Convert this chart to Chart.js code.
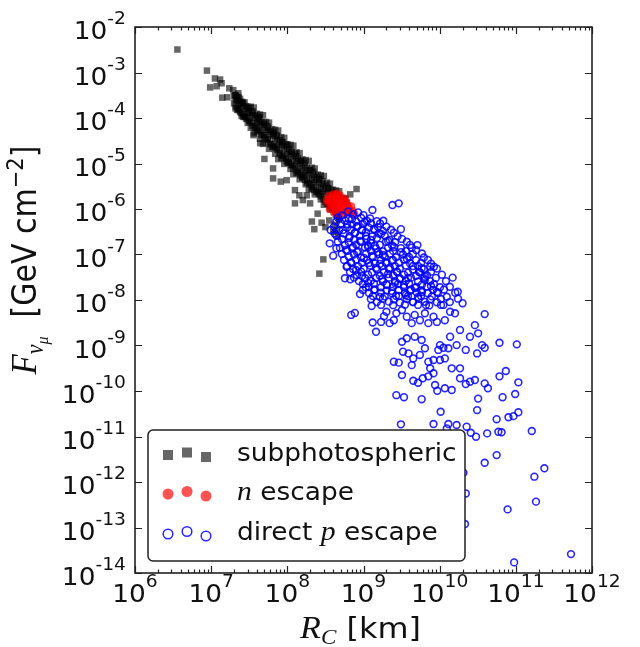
<!DOCTYPE html>
<html>
<head>
<meta charset="utf-8">
<script src="https://cdn.jsdelivr.net/npm/chart.js@4.4.0/dist/chart.umd.min.js"></script>
<style>
  html, body { margin: 0; padding: 0; background: #fff; }
  canvas { display: block; }
</style>
</head>
<body>
<canvas id="fluence" width="640" height="647"></canvas>
<script>
// [R_C in km, F in GeV cm^-2]
const subphotospheric = [
  [3.6e6, 3.2e-3], [8.8e6, 1.1e-3], [1.12e7, 7.4e-4], [9.7e6, 4.7e-4], [1.18e7, 5.0e-4],
  [1.37e7, 5.8e-4], [1.73e7, 4.5e-4], [1.4e7, 2.8e-4], [2.06e7, 3.2e-4], [2.16e7, 2.5e-4],
  [1.31e7, 7.0e-4], [1.63e7, 2.85e-4], [1.95e7, 4.1e-4], [2.27e7, 3.5e-4],
  [5.0e7, 1.26e-5], [3.6e7, 4.2e-5], [6.5e7, 4.7e-6], [8.2e7, 4.0e-6], [9.8e7, 4.3e-6],
  [1.26e8, 2.6e-6], [1.44e8, 2.0e-6], [1.26e8, 1.33e-6], [6.7e8, 2.1e-6], [8.1e8, 2.75e-6],
  [2.1e8, 5.3e-7], [2.26e8, 3.6e-7], [2.97e8, 7.8e-8], [2.63e8, 3.8e-8], [4.4e8, 3.45e-7],
  [6.5e7, 7.8e-6], [1.6e8, 1.57e-6], [1.8e8, 2.0e-6], [1.99e8, 1.33e-6], [4.4e7, 2.8e-5],
  // main band
  [2.0e7, 3.0e-4], [2.0e7, 2.1e-4], [2.1e7, 2.5e-4], [2.1e7, 1.8e-4],
  [2.3e7, 2.4e-4], [2.3e7, 1.6e-4], [2.3e7, 2.0e-4], [2.45e7, 2.1e-4], [2.45e7, 1.3e-4],
  [2.6e7, 1.8e-4], [2.6e7, 1.2e-4], [2.6e7, 2.2e-4], [2.8e7, 1.6e-4], [2.8e7, 1.1e-4],
  [3.0e7, 1.5e-4], [3.0e7, 1.0e-4], [3.0e7, 1.26e-4], [3.2e7, 1.3e-4], [3.2e7, 8.3e-5],
  [3.5e7, 1.15e-4], [3.5e7, 7.9e-5], [3.5e7, 1.4e-4], [3.7e7, 1.0e-4], [3.7e7, 6.6e-5],
  [4.0e7, 9.1e-5], [4.0e7, 6.0e-5], [4.0e7, 7.6e-5], [4.3e7, 8.3e-5], [4.3e7, 5.2e-5],
  [4.3e7, 1.0e-4], [4.6e7, 7.2e-5], [4.6e7, 4.6e-5], [4.9e7, 6.3e-5], [4.9e7, 4.2e-5],
  [4.9e7, 7.9e-5], [5.2e7, 5.5e-5], [5.2e7, 3.6e-5], [5.6e7, 5.0e-5], [5.6e7, 3.3e-5],
  [5.6e7, 6.0e-5], [6.0e7, 4.4e-5], [6.0e7, 2.75e-5], [6.5e7, 4.0e-5], [6.5e7, 2.5e-5],
  [6.5e7, 4.8e-5], [6.9e7, 3.5e-5], [6.9e7, 2.2e-5], [7.4e7, 3.0e-5], [7.4e7, 2.0e-5],
  [7.4e7, 4.0e-5], [7.9e7, 2.6e-5], [7.9e7, 1.74e-5], [8.5e7, 2.4e-5], [8.5e7, 1.5e-5],
  [8.5e7, 3.0e-5], [9.1e7, 2.1e-5], [9.1e7, 1.3e-5], [9.8e7, 1.9e-5], [9.8e7, 1.15e-5],
  [9.8e7, 2.5e-5], [1.05e8, 1.6e-5], [1.05e8, 1.05e-5], [1.12e8, 1.45e-5], [1.12e8, 9.1e-6],
  [1.12e8, 1.8e-5], [1.2e8, 1.26e-5], [1.2e8, 7.9e-6], [1.3e8, 1.15e-5], [1.3e8, 7.2e-6],
  [1.3e8, 1.45e-5], [1.38e8, 1.0e-5], [1.38e8, 6.3e-6], [1.48e8, 8.7e-6], [1.48e8, 5.5e-6],
  [1.48e8, 1.15e-5], [1.58e8, 7.9e-6], [1.58e8, 5.0e-6], [1.7e8, 6.9e-6], [1.7e8, 4.4e-6],
  [1.7e8, 9.1e-6], [1.82e8, 6.0e-6], [1.82e8, 3.8e-6], [1.95e8, 5.5e-6], [1.95e8, 3.5e-6],
  [1.95e8, 7.2e-6], [2.1e8, 4.8e-6], [2.1e8, 3.0e-6], [2.24e8, 4.4e-6], [2.24e8, 2.6e-6],
  [2.24e8, 5.8e-6], [2.4e8, 3.8e-6], [2.4e8, 2.4e-6], [2.6e8, 3.5e-6], [2.6e8, 2.1e-6],
  [2.6e8, 4.6e-6], [2.75e8, 3.0e-6], [2.75e8, 1.9e-6], [2.95e8, 2.75e-6], [2.95e8, 1.66e-6],
  [2.95e8, 3.6e-6], [3.16e8, 2.4e-6], [3.16e8, 1.45e-6], [3.4e8, 2.2e-6], [3.4e8, 1.3e-6],
  [3.4e8, 2.9e-6], [3.6e8, 1.9e-6], [3.6e8, 1.15e-6], [3.9e8, 1.74e-6], [3.9e8, 1.0e-6],
  [3.9e8, 2.3e-6], [4.2e8, 1.5e-6], [4.2e8, 8.7e-7], [4.5e8, 2.0e-6], [4.5e8, 7.6e-7],
  [4.8e8, 1.8e-6], [4.8e8, 6.6e-7], [5.1e8, 1.6e-6], [5.5e8, 1.66e-6], [6.0e8, 1.38e-6],
  [2.82e8, 5.0e-7], [3.16e8, 4.0e-7], [3.55e8, 5.6e-7], [4.0e8, 3.2e-7], [4.2e8, 4.5e-7],
  [2.5e8, 7.9e-7], [4.6e8, 2.5e-7],
  // upper edge of the band
  [2.09e7, 3.16e-4], [2.29e7, 2.91e-4], [2.51e7, 2.28e-4], [2.75e7, 2.19e-4], [3.02e7, 1.75e-4],
  [3.31e7, 1.77e-4], [3.63e7, 1.7e-4], [3.98e7, 1.24e-4], [4.37e7, 1.19e-4], [4.79e7, 1.15e-4],
  [5.25e7, 8.2e-5], [5.75e7, 7.9e-5], [6.31e7, 5.7e-5], [6.92e7, 5.5e-5], [7.59e7, 5.3e-5],
  [8.32e7, 3.8e-5], [9.12e7, 3.65e-5], [1.0e8, 2.66e-5], [1.1e8, 2.56e-5], [1.2e8, 2.47e-5],
  [1.32e8, 1.76e-5], [1.45e8, 1.69e-5], [1.58e8, 1.23e-5], [1.74e8, 1.19e-5], [1.91e8, 1.14e-5],
  [2.09e8, 8.1e-6], [2.29e8, 7.8e-6], [2.51e8, 5.7e-6], [2.75e8, 5.5e-6], [3.02e8, 5.3e-6],
  [3.31e8, 3.8e-6], [3.63e8, 3.6e-6], [3.98e8, 2.65e-6], [4.37e8, 2.55e-6], [4.79e8, 2.45e-6],
  [5.25e8, 1.75e-6], [5.75e8, 1.68e-6],
  // lower edge of the band
  [2.09e7, 1.63e-4], [2.29e7, 1.49e-4], [2.51e7, 1.11e-4], [2.75e7, 1.05e-4], [3.02e7, 7.8e-5],
  [3.31e7, 6.1e-5], [3.63e7, 4.6e-5], [3.98e7, 4.9e-5], [4.37e7, 3.5e-5], [4.79e7, 2.7e-5],
  [5.25e7, 2.84e-5], [5.75e7, 2.1e-5], [6.31e7, 2.3e-5], [6.92e7, 1.63e-5], [7.59e7, 1.25e-5],
  [8.32e7, 1.31e-5], [9.12e7, 9.8e-6], [1.0e8, 1.06e-5], [1.1e8, 7.6e-6], [1.2e8, 5.8e-6],
  [1.32e8, 6.1e-6], [1.45e8, 4.5e-6], [1.58e8, 4.9e-6], [1.74e8, 3.5e-6], [1.91e8, 2.7e-6],
  [2.09e8, 2.8e-6], [2.29e8, 2.1e-6], [2.51e8, 2.3e-6], [2.75e8, 1.63e-6], [3.02e8, 1.24e-6],
  [3.31e8, 1.31e-6], [3.63e8, 9.8e-7], [3.98e8, 1.05e-6], [4.37e8, 7.5e-7], [4.79e8, 5.8e-7],
  // inner fill of the band
  [2.19e7, 2.87e-4], [2.19e7, 1.51e-4], [2.4e7, 2.64e-4], [2.4e7, 1.38e-4], [2.63e7, 2.06e-4],
  [2.63e7, 1.06e-4], [2.88e7, 1.81e-4], [2.88e7, 9.5e-5], [3.16e7, 1.66e-4], [3.16e7, 8.7e-5],
  [3.47e7, 1.3e-4], [3.47e7, 6.7e-5], [3.8e7, 1.14e-4], [3.8e7, 6.0e-5], [4.17e7, 1.05e-4],
  [4.17e7, 5.5e-5], [4.57e7, 8.2e-5], [4.57e7, 4.2e-5], [5.01e7, 7.2e-5], [5.01e7, 3.77e-5],
  [5.5e7, 6.6e-5], [5.5e7, 3.47e-5], [6.03e7, 5.2e-5], [6.03e7, 2.65e-5], [6.61e7, 4.5e-5],
  [6.61e7, 2.38e-5], [7.24e7, 4.16e-5], [7.24e7, 2.18e-5], [7.94e7, 3.25e-5], [7.94e7, 1.67e-5],
  [8.71e7, 2.86e-5], [8.71e7, 1.5e-5], [9.55e7, 2.62e-5], [9.55e7, 1.38e-5], [1.05e8, 2.05e-5],
  [1.05e8, 1.05e-5], [1.15e8, 1.8e-5], [1.15e8, 9.4e-6], [1.26e8, 1.65e-5], [1.26e8, 8.7e-6],
  [1.38e8, 1.29e-5], [1.38e8, 6.6e-6], [1.51e8, 1.14e-5], [1.51e8, 6.0e-6], [1.66e8, 1.04e-5],
  [1.66e8, 5.5e-6], [1.82e8, 8.1e-6], [1.82e8, 4.2e-6], [2.0e8, 7.1e-6], [2.0e8, 3.75e-6],
  [2.19e8, 6.6e-6], [2.19e8, 3.45e-6], [2.4e8, 5.1e-6], [2.4e8, 2.64e-6], [2.63e8, 4.5e-6],
  [2.63e8, 2.37e-6], [2.88e8, 4.14e-6], [2.88e8, 2.17e-6], [3.16e8, 3.24e-6], [3.16e8, 1.66e-6],
  [3.47e8, 2.84e-6], [3.47e8, 1.49e-6], [3.8e8, 2.61e-6], [3.8e8, 1.37e-6], [4.17e8, 2.04e-6],
  [4.17e8, 1.05e-6], [4.57e8, 1.79e-6], [4.57e8, 9.4e-7],
]

const neutronEscape = [
  [3.3e8, 1.58e-6], [3.5e8, 1.9e-6], [3.8e8, 1.26e-6], [4.0e8, 2.1e-6], [4.2e8, 1.5e-6],
  [4.4e8, 1.1e-6], [4.6e8, 1.8e-6], [4.8e8, 1.3e-6], [5.0e8, 9.5e-7], [5.2e8, 1.58e-6],
  [5.5e8, 1.2e-6], [5.8e8, 8.7e-7], [6.0e8, 1.38e-6], [6.3e8, 1.05e-6], [6.6e8, 8.3e-7],
  [6.9e8, 1.15e-6], [7.2e8, 9.1e-7], [3.6e8, 1.0e-6], [4.1e8, 8.3e-7], [4.7e8, 7.9e-7],
  [5.4e8, 7.6e-7], [3.8e8, 1.66e-6], [4.9e8, 2.0e-6], [7.6e8, 7.9e-7],
  [3.4e8, 1.4e-6], [3.7e8, 1.5e-6], [4.3e8, 1.75e-6], [4.5e8, 1.25e-6], [5.1e8, 1.4e-6],
  [5.6e8, 1.5e-6], [6.2e8, 1.2e-6], [4.0e8, 1.1e-6], [5.3e8, 1.0e-6], [6.5e8, 9.5e-7],
  [4.4e8, 9.0e-7], [3.9e8, 1.9e-6], [4.5e8, 2.2e-6], [5.7e8, 1.7e-6],
]

const directProtonEscape = [
  [1.31e9, 9.5e-7], [2.4e9, 1.22e-6], [2.9e9, 1.33e-6], [3.1e9, 3.6e-7], [1.82e9, 5.5e-7],
  [1.65e9, 4.8e-7], [5.1e9, 1.61e-7], [4.9e9, 1.25e-7], [1.48e10, 3.1e-8], [1.73e10, 1.52e-8],
  [2.0e10, 8.5e-9], [3.9e10, 4.9e-9], [7.5e9, 5.4e-8], [5.8e9, 5.0e-8], [6.4e9, 3.25e-8],
  [1.24e10, 1.18e-8], [1.12e10, 7.8e-9], [1.37e10, 5.5e-9], [1.59e10, 5.1e-9], [9.0e8, 1.35e-8],
  [1.07e9, 1.9e-8], [1.28e9, 7.4e-9], [6.9e8, 4.7e-9], [7.7e8, 5.2e-9], [6.0e8, 5.4e-8],
  [5.7e8, 3.0e-8], [6.7e8, 2.85e-8], [4.0e8, 9.4e-8], [3.6e8, 1.76e-7], [4.4e8, 1.37e-7],
  [3.7e8, 3.45e-7], [4.2e8, 2.9e-7],
  [1.32e9, 3.2e-9], [1.46e9, 2.0e-9], [1.7e9, 3.3e-9], [1.86e9, 4.4e-9], [2.0e9, 5.5e-9],
  [2.2e9, 3.1e-9], [2.5e9, 3.6e-9], [2.7e9, 5.1e-9], [3.2e9, 6.0e-9], [3.7e9, 4.3e-9],
  [4.3e9, 3.1e-9], [4.7e9, 4.7e-9], [5.5e9, 3.6e-9], [6.4e9, 5.1e-9], [7.1e9, 3.1e-9],
  [8.3e9, 4.3e-9], [9.2e9, 3.3e-9], [1.17e10, 3.6e-9], [2.9e10, 2.8e-9], [3.2e10, 1.85e-9],
  [1.85e10, 2.2e-9], [2.5e10, 1.56e-9], [6.1e10, 1.15e-9], [1.03e11, 1.06e-9], [3.6e10, 1.02e-9],
  [3.9e10, 8.9e-10], [3.1e10, 6.7e-10], [2.2e10, 8.0e-10], [1.37e10, 1.56e-9], [1.01e10, 1.02e-9],
  [9.6e9, 8.0e-10], [1.12e10, 8.9e-10], [1.3e10, 8.7e-10], [1.67e10, 1.02e-9], [1.17e10, 5.2e-10],
  [1.01e10, 4.8e-10], [8.3e9, 4.8e-10], [7.1e9, 4.4e-10], [6.4e9, 8.7e-10], [5.8e9, 1.32e-9],
  [4.7e9, 1.56e-9], [3.7e9, 1.44e-9], [3.2e9, 1.21e-9], [3.3e9, 7.3e-10], [3.9e9, 6.7e-10],
  [4.5e9, 5.2e-10], [4.3e9, 3.7e-10], [2.5e9, 4.4e-10], [2.9e9, 4.2e-10], [5.5e9, 6.2e-10],
  [7.5e9, 3.15e-10], [8.3e9, 2.45e-10], [1.44e10, 3.15e-10], [1.85e10, 3.15e-10], [7.4e10, 2.75e-10],
  [6.1e10, 2.1e-10], [3.2e9, 2.25e-10], [4.5e9, 1.68e-10], [5.2e9, 1.52e-10], [6.0e9, 1.9e-10],
  [7.1e9, 2.1e-10], [8.7e9, 1.35e-10], [9.3e9, 1.01e-10], [1.17e10, 1.15e-10], [1.44e10, 1.05e-10],
  [1.85e10, 1.9e-10], [2.2e10, 1.42e-10], [2.5e10, 1.6e-10], [2.9e10, 1.74e-10], [3.9e10, 1.47e-10],
  [4.3e10, 1.15e-10], [1.08e11, 1.55e-10], [3.2e10, 6.8e-11], [6.7e10, 7.3e-11], [9.8e10, 8.6e-11],
  [2.7e9, 8.1e-11], [3.4e9, 7.3e-11], [5.8e9, 6.6e-11], [3.1e10, 3.8e-11], [1.03e10, 3.5e-11],
  [5.6e10, 2.4e-11], [8.0e10, 2.65e-11], [9.3e10, 2.8e-11], [1.08e11, 3.4e-11], [3.1e9, 1.85e-11],
  [8.3e9, 1.88e-11], [1.3e10, 1.88e-11], [1.67e10, 1.79e-11], [1.24e10, 1.51e-11], [2.26e10, 1.64e-11],
  [2.56e10, 1.21e-11], [3.0e10, 9.9e-12], [4.2e10, 1.17e-11], [5.9e10, 1.27e-11], [6.5e10, 1.24e-11],
  [1.62e11, 1.32e-11], [1.89e10, 4.3e-12], [5.6e10, 3.9e-12], [3.9e10, 2.65e-12], [2.05e10, 1.6e-12],
  [1.75e11, 1.31e-12], [2.37e11, 2.0e-12], [2.2e10, 5.6e-13], [1.84e11, 3.7e-13], [7.8e10, 2.5e-13],
  [2.15e10, 1.19e-13], [5.3e11, 2.6e-14], [9.5e10, 1.71e-14],
  // dense core
  [6.3e8, 8.8e-7], [8.5e8, 8.4e-7],
  [5.2e8, 7.2e-7], [7.3e8, 7.6e-7], [1.0e9, 7.3e-7],
  [4.6e8, 6.5e-7], [6.4e8, 6.1e-7], [9.3e8, 6.4e-7], [1.22e9, 6.2e-7],
  [4.4e8, 5.3e-7], [5.7e8, 5.6e-7], [8.0e8, 5.3e-7], [1.11e9, 5.5e-7], [1.5e9, 5.4e-7],
  [5.1e8, 4.8e-7], [7.1e8, 4.6e-7], [9.8e8, 4.7e-7], [1.25e9, 4.9e-7],
  [4.1e8, 4.1e-7], [6.1e8, 3.9e-7], [8.2e8, 4.1e-7], [1.18e9, 3.9e-7], [1.55e9, 4.0e-7], [2.0e9, 4.1e-7],
  [4.8e8, 3.4e-7], [6.9e8, 3.5e-7], [9.5e8, 3.4e-7], [1.4e9, 3.5e-7], [1.8e9, 3.3e-7], [2.3e9, 3.5e-7],
  [5.5e8, 2.9e-7], [7.7e8, 3.0e-7], [1.08e9, 3.1e-7], [1.6e9, 2.9e-7], [2.5e9, 3.0e-7],
  [4.4e8, 2.6e-7], [6.6e8, 2.5e-7], [9.0e8, 2.6e-7], [1.3e9, 2.5e-7], [1.9e9, 2.6e-7], [2.8e9, 2.5e-7],
  [5.2e8, 2.2e-7], [7.5e8, 2.1e-7], [1.1e9, 2.2e-7], [1.5e9, 2.3e-7], [2.2e9, 2.1e-7], [3.2e9, 2.2e-7],
  [4.6e8, 1.9e-7], [6.4e8, 1.85e-7], [9.3e8, 1.9e-7], [1.25e9, 1.8e-7], [1.97e9, 1.9e-7], [2.6e9, 1.87e-7], [3.7e9, 1.9e-7],
  [5.7e8, 1.6e-7], [8.0e8, 1.65e-7], [1.15e9, 1.6e-7], [1.64e9, 1.63e-7], [2.37e9, 1.58e-7], [4.07e9, 1.62e-7],
  [4.9e8, 1.4e-7], [7.1e8, 1.38e-7], [1.05e9, 1.42e-7], [1.46e9, 1.36e-7], [2.1e9, 1.4e-7], [3.1e9, 1.38e-7], [4.3e9, 1.41e-7],
  [6.1e8, 1.2e-7], [8.5e8, 1.18e-7], [1.25e9, 1.21e-7], [1.8e9, 1.17e-7], [2.45e9, 1.2e-7], [3.6e9, 1.19e-7],
  [5.2e8, 1.03e-7], [7.5e8, 1.0e-7], [1.08e9, 1.05e-7], [1.6e9, 1.02e-7], [2.23e9, 1.04e-7], [3.3e9, 1.0e-7], [4.45e9, 1.03e-7], [5.86e9, 1.05e-7],
  [6.4e8, 8.9e-8], [9.3e8, 8.6e-8], [1.33e9, 8.8e-8], [1.9e9, 9.0e-8], [2.67e9, 8.7e-8], [3.95e9, 8.8e-8], [6.2e9, 8.6e-8],
  [5.55e8, 7.6e-8], [8.0e8, 7.8e-8], [1.11e9, 7.5e-8], [1.7e9, 7.6e-8], [2.37e9, 7.4e-8], [3.4e9, 7.7e-8], [4.9e9, 7.5e-8], [7.0e9, 7.6e-8],
  [6.9e8, 6.5e-8], [9.55e8, 6.6e-8], [1.4e9, 6.4e-8], [1.97e9, 6.5e-8], [2.9e9, 6.6e-8], [4.07e9, 6.4e-8], [5.7e9, 6.5e-8], [7.7e9, 6.3e-8],
  [6.1e8, 5.6e-8], [8.5e8, 5.5e-8], [1.22e9, 5.7e-8], [1.75e9, 5.6e-8], [2.6e9, 5.5e-8], [3.6e9, 5.7e-8], [5.2e9, 5.6e-8], [8.4e9, 5.4e-8],
  [7.3e8, 4.8e-8], [1.01e9, 4.9e-8], [1.5e9, 4.7e-8], [2.15e9, 4.8e-8], [3.0e9, 4.9e-8], [4.45e9, 4.7e-8], [6.2e9, 4.8e-8], [9.2e9, 4.9e-8],
  [6.65e8, 4.1e-8], [9.3e8, 4.2e-8], [1.29e9, 4.0e-8], [1.86e9, 4.1e-8], [2.75e9, 4.2e-8], [3.84e9, 4.0e-8], [5.5e9, 4.1e-8], [7.7e9, 4.2e-8],
  [8.2e8, 3.5e-8], [1.15e9, 3.6e-8], [1.64e9, 3.4e-8], [2.45e9, 3.5e-8], [3.4e9, 3.6e-8], [4.9e9, 3.4e-8], [6.8e9, 3.5e-8], [1.07e10, 3.6e-8],
  [7.5e8, 3.1e-8], [1.05e9, 3.0e-8], [1.46e9, 3.05e-8], [2.15e9, 3.1e-8], [3.0e9, 3.0e-8], [4.2e9, 3.1e-8], [6.2e9, 3.0e-8], [8.9e9, 3.05e-8],
  [8.7e8, 2.6e-8], [1.25e9, 2.65e-8], [1.8e9, 2.55e-8], [2.6e9, 2.6e-8], [3.6e9, 2.65e-8], [5.2e9, 2.55e-8], [7.5e9, 2.6e-8], [1.21e10, 2.6e-8],
  [9.8e8, 2.25e-8], [1.37e9, 2.3e-8], [2.0e9, 2.2e-8], [2.84e9, 2.25e-8], [3.95e9, 2.3e-8], [5.86e9, 2.2e-8], [8.4e9, 2.25e-8],
  [1.18e9, 1.93e-8], [1.7e9, 1.9e-8], [2.45e9, 1.95e-8], [3.4e9, 1.9e-8], [4.9e9, 1.93e-8], [6.8e9, 1.97e-8], [1.01e10, 1.9e-8], [1.36e10, 1.95e-8],
  [9.8e8, 1.66e-8], [1.4e9, 1.7e-8], [2.0e9, 1.63e-8], [2.9e9, 1.66e-8], [4.2e9, 1.7e-8], [5.7e9, 1.64e-8], [8.2e9, 1.66e-8], [1.14e10, 1.7e-8],
  [1.18e9, 1.43e-8], [1.7e9, 1.45e-8], [2.37e9, 1.4e-8], [3.5e9, 1.43e-8], [5.0e9, 1.46e-8], [7.0e9, 1.41e-8], [9.5e9, 1.43e-8], [1.6e10, 1.45e-8],
  [1.33e9, 1.22e-8], [1.9e9, 1.2e-8], [2.67e9, 1.24e-8], [3.84e9, 1.21e-8], [5.7e9, 1.23e-8], [7.9e9, 1.2e-8],
  [1.25e9, 1.05e-8], [1.8e9, 1.07e-8], [2.5e9, 1.03e-8], [3.7e9, 1.05e-8], [5.3e9, 1.06e-8], [7.5e9, 1.03e-8], [1.04e10, 1.05e-8], [1.74e10, 1.07e-8],
  [1.5e9, 9.0e-9], [2.15e9, 9.2e-9], [3.0e9, 8.8e-9], [4.45e9, 9.0e-9], [6.4e9, 9.1e-9], [9.2e9, 8.9e-9], [1.36e10, 9.0e-9],
  [1.7e9, 7.8e-9], [2.45e9, 7.7e-9], [3.5e9, 7.9e-9], [5.2e9, 7.8e-9], [7.3e9, 7.6e-9], [1.04e10, 7.8e-9],
  // ridge of the core
  [6.07e8, 4.68e-7], [7.06e8, 6.03e-7], [8.47e8, 4.23e-7], [7.73e8, 2.97e-7], [9.55e8, 3.45e-7],
  [1.08e9, 2.55e-7], [8.99e8, 1.98e-7], [1.25e9, 2.08e-7], [1.15e9, 1.46e-7], [1.41e9, 1.54e-7],
  [1.55e9, 1.13e-7], [1.29e9, 9.3e-8], [1.8e9, 9.75e-8], [1.97e9, 6.8e-8], [1.64e9, 6.2e-8],
  [2.23e9, 5.05e-8], [2.44e9, 7.6e-8], [2.1e9, 3.72e-8], [2.75e9, 4.12e-8], [3.01e9, 2.89e-8],
  [2.59e9, 2.37e-8], [3.4e9, 2.14e-8], [3.84e9, 3.05e-8], [4.07e9, 1.58e-8], [4.74e9, 1.84e-8],
  [3.61e9, 1.29e-8], [5.19e9, 1.16e-8], [5.86e9, 1.5e-8], [4.47e9, 9.0e-9], [6.61e9, 7.76e-9],
  [6.45e8, 2.31e-7], [7.28e8, 1.46e-7], [8.2e8, 1.13e-7], [1.01e9, 8.4e-8], [1.18e9, 6.5e-8],
  [1.46e9, 5.05e-8], [1.75e9, 2.89e-8], [2.03e9, 2.14e-8], [2.37e9, 1.58e-8], [2.92e9, 1.22e-8],
  [1.04e9, 5.18e-7], [1.37e9, 3.63e-7], [1.7e9, 2.82e-7], [2.1e9, 1.98e-7], [2.51e9, 1.46e-7],
  [3.1e9, 1.13e-7], [3.72e9, 7.96e-8], [4.47e9, 5.58e-8], [5.35e9, 4.12e-8], [6.41e9, 2.75e-8],
  [7.69e9, 2.03e-8], [9.22e9, 1.5e-8], [5.38e8, 3.45e-7], [5.89e8, 1.26e-7], [6.85e8, 6.8e-8],
  [7.96e8, 4.56e-8], [9.55e8, 3.37e-8], [1.15e9, 2.37e-8], [1.37e9, 1.66e-8], [1.64e9, 1.16e-8],
]

const xDecades = [6, 7, 8, 9, 10, 11, 12]
const yDecades = [-14, -13, -12, -11, -10, -9, -8, -7, -6, -5, -4, -3, -2]

const BLACK_SQ = 'rgba(0, 0, 0, 0.6)'
const RED_DOT = 'rgba(255, 0, 0, 0.68)'
const BLUE_RING = 'rgba(0, 0, 255, 0.85)'

// the figure is a touch wider than tall, so text is widened to suit
const STRETCH = 1.1
const SANS = '"DejaVu Sans"'
const SERIF = '"Liberation Serif"'
const TICK_FONT = `24px ${SANS}`
const SUP_FONT = `17px ${SANS}`
const INK = '#111'

function runsWidth(ctx, runs, k) {
  let w = 0
  for (const r of runs) {
    ctx.font = r.font
    w += ctx.measureText(r.t).width * k
  }
  return w
}

function drawRuns(ctx, runs, x, y, k) {
  let cx = x
  for (const r of runs) {
    ctx.font = r.font
    const w = ctx.measureText(r.t).width
    ctx.save()
    ctx.translate(cx, y + (r.dy || 0))
    ctx.scale(k, 1)
    ctx.fillText(r.t, 0, 0)
    ctx.restore()
    cx += w * k
  }
}

const powerLabel = (e) => [
  { t: '10', font: TICK_FONT },
  { t: String(e), font: SUP_FONT, dy: -15 },
]

const axesDecor = {
  id: 'axesDecor',
  afterDraw(chart) {
    const { ctx, chartArea: a, scales } = chart
    const xs = scales.x
    const ys = scales.y
    ctx.save()
    ctx.fillStyle = INK
    ctx.strokeStyle = '#222'
    ctx.textBaseline = 'alphabetic'
    ctx.textAlign = 'left'

    // inward tick marks
    ctx.lineWidth = 1.2
    ctx.beginPath()
    xDecades.forEach((e) => {
      const px = Math.round(xs.getPixelForValue(10 ** e)) + 0.5
      ctx.moveTo(px, a.bottom); ctx.lineTo(px, a.bottom - 7)
      ctx.moveTo(px, a.top); ctx.lineTo(px, a.top + 7)
      if (e < 12) {
        for (let m = 2; m < 10; m++) {
          const mx = Math.round(xs.getPixelForValue(m * 10 ** e)) + 0.5
          ctx.moveTo(mx, a.bottom); ctx.lineTo(mx, a.bottom - 3.5)
          ctx.moveTo(mx, a.top); ctx.lineTo(mx, a.top + 3.5)
        }
      }
    })
    yDecades.forEach((e) => {
      const py = Math.round(ys.getPixelForValue(10 ** e)) + 0.5
      ctx.moveTo(a.left, py); ctx.lineTo(a.left + 7, py)
      ctx.moveTo(a.right, py); ctx.lineTo(a.right - 7, py)
    })
    ctx.stroke()

    // frame
    ctx.lineWidth = 1.6
    ctx.strokeRect(a.left, a.top, a.right - a.left, a.bottom - a.top)

    // tick labels
    xDecades.forEach((e) => {
      const runs = powerLabel(e)
      const w = runsWidth(ctx, runs, STRETCH)
      drawRuns(ctx, runs, xs.getPixelForValue(10 ** e) - w / 2, 602, STRETCH)
    })
    yDecades.forEach((e) => {
      const runs = powerLabel(e)
      const w = runsWidth(ctx, runs, STRETCH)
      drawRuns(ctx, runs, 126 - w, ys.getPixelForValue(10 ** e) + 12, STRETCH)
    })

    // x title
    const xTitle = [
      { t: 'R', font: `italic 31px ${SERIF}` },
      { t: 'C', font: `italic 21px ${SERIF}`, dy: 6 },
      { t: ' [km]', font: `29px ${SANS}` },
    ]
    const xw = runsWidth(ctx, xTitle, STRETCH)
    drawRuns(ctx, xTitle, (a.left + a.right) / 2 - xw / 2 - 3, 638, STRETCH)

    // y title, rotated
    const yTitle = [
      { t: 'F', font: `italic 33px ${SERIF}` },
      { t: 'ν', font: `italic 22px ${SERIF}`, dy: 6 },
      { t: 'μ', font: `italic 16px ${SERIF}`, dy: 11 },
      { t: '  [GeV cm', font: `30px ${SANS}` },
      { t: '−2', font: `21px ${SANS}`, dy: -12 },
      { t: ']', font: `30px ${SANS}` },
    ]
    ctx.save()
    ctx.translate(36, 260)
    ctx.scale(STRETCH, 1)
    ctx.rotate(-Math.PI / 2)
    const yw = runsWidth(ctx, yTitle, 1)
    drawRuns(ctx, yTitle, -yw / 2, 0, 1)
    ctx.restore()

    // legend box
    const lx = 148, ly = 430, lw = 317, lh = 131, r = 5
    ctx.beginPath()
    ctx.moveTo(lx + r, ly)
    ctx.arcTo(lx + lw, ly, lx + lw, ly + lh, r)
    ctx.arcTo(lx + lw, ly + lh, lx, ly + lh, r)
    ctx.arcTo(lx, ly + lh, lx, ly, r)
    ctx.arcTo(lx, ly, lx + lw, ly, r)
    ctx.closePath()
    ctx.fillStyle = '#fff'
    ctx.fill()
    ctx.lineWidth = 1.5
    ctx.strokeStyle = '#222'
    ctx.stroke()

    const mx = [168, 187, 206]
    const wobble = [0, -2.5, 2]
    mx.forEach((x, i) => {
      ctx.fillStyle = BLACK_SQ
      ctx.fillRect(x - 5, 455 + wobble[i] - 5, 10, 10)
      ctx.fillStyle = RED_DOT
      ctx.beginPath()
      ctx.arc(x, 494 + wobble[i], 5.5, 0, Math.PI * 2)
      ctx.fill()
      ctx.strokeStyle = BLUE_RING
      ctx.lineWidth = 1.5
      ctx.beginPath()
      ctx.arc(x, 534 + wobble[i], 4.8, 0, Math.PI * 2)
      ctx.stroke()
    })

    ctx.fillStyle = INK
    const LEG = `24px ${SANS}`
    const MATH = `italic 27px ${SERIF}`
    drawRuns(ctx, [{ t: 'subphotospheric', font: LEG }], 237, 461, STRETCH)
    drawRuns(ctx, [{ t: 'n', font: MATH }, { t: ' escape', font: LEG }], 237, 500, STRETCH)
    drawRuns(ctx, [{ t: 'direct ', font: LEG }, { t: 'p', font: MATH }, { t: ' escape', font: LEG }], 237, 540, STRETCH)
    ctx.restore()
  },
}

const toPoints = (pairs) => pairs.map(([x, y]) => ({ x, y }))

new Chart(document.getElementById('fluence'), {
  type: 'scatter',
  data: {
    datasets: [
      {
        label: 'direct p escape',
        data: toPoints(directProtonEscape),
        order: 0,
        pointStyle: 'circle',
        pointRadius: 3.4,
        pointBorderWidth: 1.6,
        pointBorderColor: BLUE_RING,
        pointBackgroundColor: 'rgba(0, 0, 0, 0)',
      },
      {
        label: 'n escape',
        data: toPoints(neutronEscape),
        order: 1,
        pointStyle: 'circle',
        pointRadius: 4,
        pointBorderWidth: 0,
        pointBackgroundColor: RED_DOT,
      },
      {
        label: 'subphotospheric',
        data: toPoints(subphotospheric),
        order: 2,
        pointStyle: 'rect',
        pointRadius: 4.6,
        pointBorderWidth: 0,
        pointBackgroundColor: BLACK_SQ,
      },
    ],
  },
  options: {
    responsive: false,
    animation: false,
    devicePixelRatio: 1,
    events: [],
    layout: { padding: { top: 27, right: 48, left: 0, bottom: 0 } },
    plugins: { legend: { display: false }, tooltip: { enabled: false } },
    scales: {
      x: {
        type: 'logarithmic',
        min: 1e6,
        max: 1e12,
        ticks: { display: false },
        grid: { display: false },
        border: { display: false },
        afterFit: (s) => { s.height = 74 },
      },
      y: {
        type: 'logarithmic',
        min: 1e-14,
        max: 1e-2,
        ticks: { display: false },
        grid: { display: false },
        border: { display: false },
        afterFit: (s) => { s.width = 135 },
      },
    },
  },
  plugins: [axesDecor],
})
</script>
</body>
</html>
